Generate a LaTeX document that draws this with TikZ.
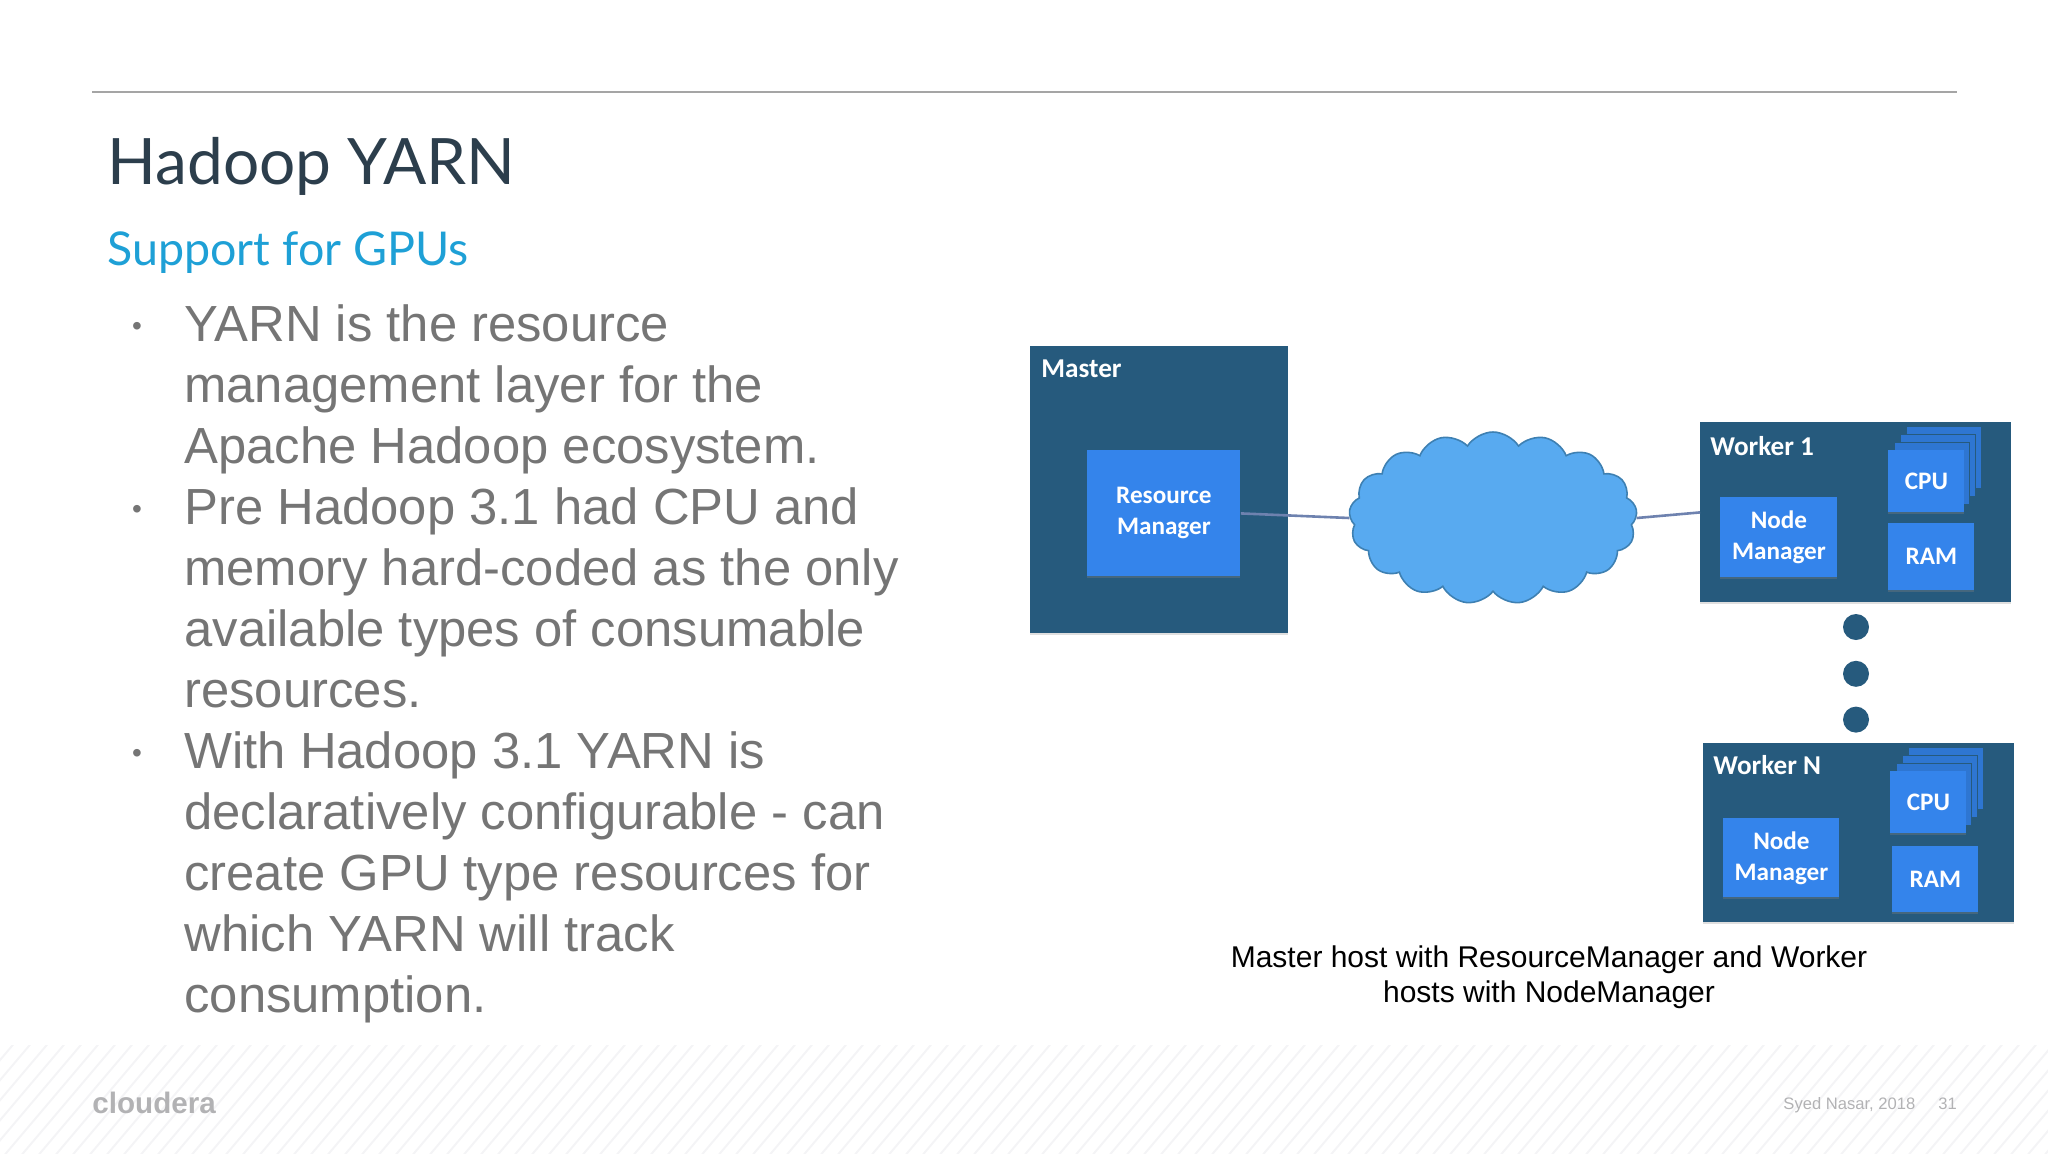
\documentclass[tikz,border=0pt]{standalone}
\usepackage{fontspec}
\setmainfont{Liberation Sans}
\newfontfamily\latofont{Lato}
\newfontfamily\carlitofont{Carlito}
\usetikzlibrary{positioning, shapes.symbols, shadows}
\definecolor{SlideTitle}{RGB}{44, 62, 76}
\definecolor{SlideSub}{RGB}{30, 160, 214}
\definecolor{SlideBody}{RGB}{117, 117, 117}
\definecolor{SlideRule}{RGB}{165, 165, 165}
\definecolor{FootGrey}{RGB}{178, 178, 180}
\definecolor{StripeGrey}{RGB}{244, 244, 246}
\definecolor{HostBlue}{RGB}{38, 90, 125}
\definecolor{PartBlue}{RGB}{52, 132, 235}
\definecolor{LayerBlue}{RGB}{46, 118, 210}
\definecolor{CloudBlue}{RGB}{88, 170, 240}
\definecolor{CloudEdge}{RGB}{62, 128, 178}
\definecolor{LinkGrey}{RGB}{110, 130, 175}
\tikzset{
  hostbox/.style={fill=HostBlue, anchor=north west, inner sep=0pt, drop shadow={shadow xshift=0pt, shadow yshift=-0.8pt, opacity=0.25}},
  partbox/.style={fill=PartBlue, text=white, anchor=north west, inner sep=0pt, align=center, font=\carlitofont\bfseries\fontsize{12.6}{15.5}\selectfont, drop shadow={shadow xshift=0pt, shadow yshift=-0.8pt, opacity=0.35}},
  cpulayer/.style={fill=LayerBlue, draw=HostBlue, line width=0.3pt, anchor=north west, inner sep=0pt, minimum width=37.5pt, minimum height=31pt},
  hostlabel/.style={text=white, inner sep=0pt, anchor=west, font=\carlitofont\bfseries\fontsize{13.6}{16}\selectfont},
  dotmark/.style={circle, fill=HostBlue, inner sep=0pt, minimum size=13pt},
  bulletmark/.style={text=SlideBody, inner sep=0pt, font=\fontsize{14}{16}\selectfont},
  footnote/.style={text=FootGrey, inner sep=0pt, anchor=base west, font=\fontsize{8.3}{10}\selectfont},
  linkline/.style={LinkGrey, line width=1.3pt}
}
\begin{document}
\begin{tikzpicture}[x=0.5pt, y=-0.5pt]
  \useasboundingbox (0,0) rectangle (2048,1153);
  % footer stripes
  \begin{scope}
    \clip (0,1045) rectangle (2048,1153);
    \foreach \i in {0,17,...,2240}
      \draw[StripeGrey, line width=1pt] (\i,1040) -- (\i-100,1158);
  \end{scope}
  \coordinate (ruleL) at (92,92);
  \coordinate (ruleR) at (1957,92);
  \draw[SlideRule, line width=0.8pt] (ruleL) -- (ruleR);

  \node[anchor=base west, inner sep=0pt, text=SlideTitle, font=\latofont\fontsize{32}{36}\selectfont] (title) at (107,184) {Hadoop YARN};
  \node[anchor=base west, inner sep=0pt, text=SlideSub, font=\latofont\fontsize{23.3}{28}\selectfont] (subtitle) at (107,265) {Support for GPUs};

  \node[anchor=north west, inner sep=0pt, align=left, text=SlideBody, font=\fontsize{25.4}{30.5}\selectfont] (body) at (184,304) {YARN is the resource\\management layer for the\\Apache Hadoop ecosystem.\\Pre Hadoop 3.1 had CPU and\\memory hard-coded as the only\\available types of consumable\\resources.\\With Hadoop 3.1 YARN is\\declaratively configurable - can\\create GPU type resources for\\which YARN will track\\consumption.};
  \node[bulletmark] (bulletA) at (137,329) {•};
  \node[bulletmark] (bulletB) at (137,512) {•};
  \node[bulletmark] (bulletC) at (137,756) {•};

  % master
  \node[hostbox, minimum width=129pt, minimum height=143.5pt] (master) at (1030,346) {};
  \node[hostlabel, below right=11.5pt and 5.5pt of master.north west, anchor=west] (masterlabel) {Master};
  \node[partbox, minimum width=76.5pt, minimum height=63pt, below right=52pt and 28.5pt of master.north west] (resmgr) {Resource\\Manager};

  % cloud
  \node[cloud, cloud puffs=17, cloud puff arc=115, aspect=1.67, fill=CloudBlue, draw=CloudEdge, line width=0.8pt, inner sep=0pt, minimum width=144pt, minimum height=86pt] (netcloud) at (1493,518) {};

  % worker 1
  \node[hostbox, minimum width=155.5pt, minimum height=90pt] (workerA) at (1700,422) {};
  \node[hostlabel, below right=12pt and 5pt of workerA.north west, anchor=west] (workerAlabel) {Worker 1};
  \foreach \k in {3,2,1}
    \node[cpulayer] (cpuAback\k) at (1888+\k*6,450-\k*8) {};
  \node[partbox, minimum width=38pt, minimum height=31pt, below right=14pt and 94pt of workerA.north west] (cpuA) {CPU};
  \node[partbox, minimum width=43pt, minimum height=33.5pt, below=5pt of cpuA.south west, anchor=north west] (ramA) {RAM};
  \node[partbox, minimum width=58.5pt, minimum height=40pt, below right=37.5pt and 10pt of workerA.north west] (nodemgrA) {Node\\Manager};

  % dots between the workers
  \node[dotmark] (dotA) at (1856,627) {};
  \node[dotmark, below=10pt of dotA] (dotB) {};
  \node[dotmark, below=9.5pt of dotB] (dotC) {};

  % worker n
  \node[hostbox, minimum width=155.5pt, minimum height=89.5pt] (workerN) at (1703,743) {};
  \node[hostlabel, below right=11pt and 5pt of workerN.north west, anchor=west] (workerNlabel) {Worker N};
  \foreach \k in {3,2,1}
    \node[cpulayer] (cpuNback\k) at (1890+\k*6,771-\k*8) {};
  \node[partbox, minimum width=38pt, minimum height=31pt, below right=14pt and 93.5pt of workerN.north west] (cpuN) {CPU};
  \node[partbox, minimum width=43pt, minimum height=33pt, below=6pt of cpuN.south west, xshift=1pt, anchor=north west] (ramN) {RAM};
  \node[partbox, minimum width=58pt, minimum height=39.5pt, below right=37.5pt and 10pt of workerN.north west] (nodemgrN) {Node\\Manager};

  \draw[linkline] (resmgr.east) -- (netcloud.west);
  \draw[linkline] (netcloud.east) -- (workerA.west);

  \node[inner sep=0pt, align=center, text=black, font=\fontsize{15}{17.6}\selectfont] (caption) at (1549,977) {Master host with ResourceManager and Worker\\hosts with NodeManager};

  \node[anchor=base west, inner sep=0pt, text=FootGrey, font=\bfseries\fontsize{14.8}{18}\selectfont] (logo) at (92,1113) {cloudera};
  \node[footnote] (author) at (1783,1109) {Syed Nasar, 2018};
  \node[footnote] (pagenum) at (1938,1109) {31};
\end{tikzpicture}
\end{document}
